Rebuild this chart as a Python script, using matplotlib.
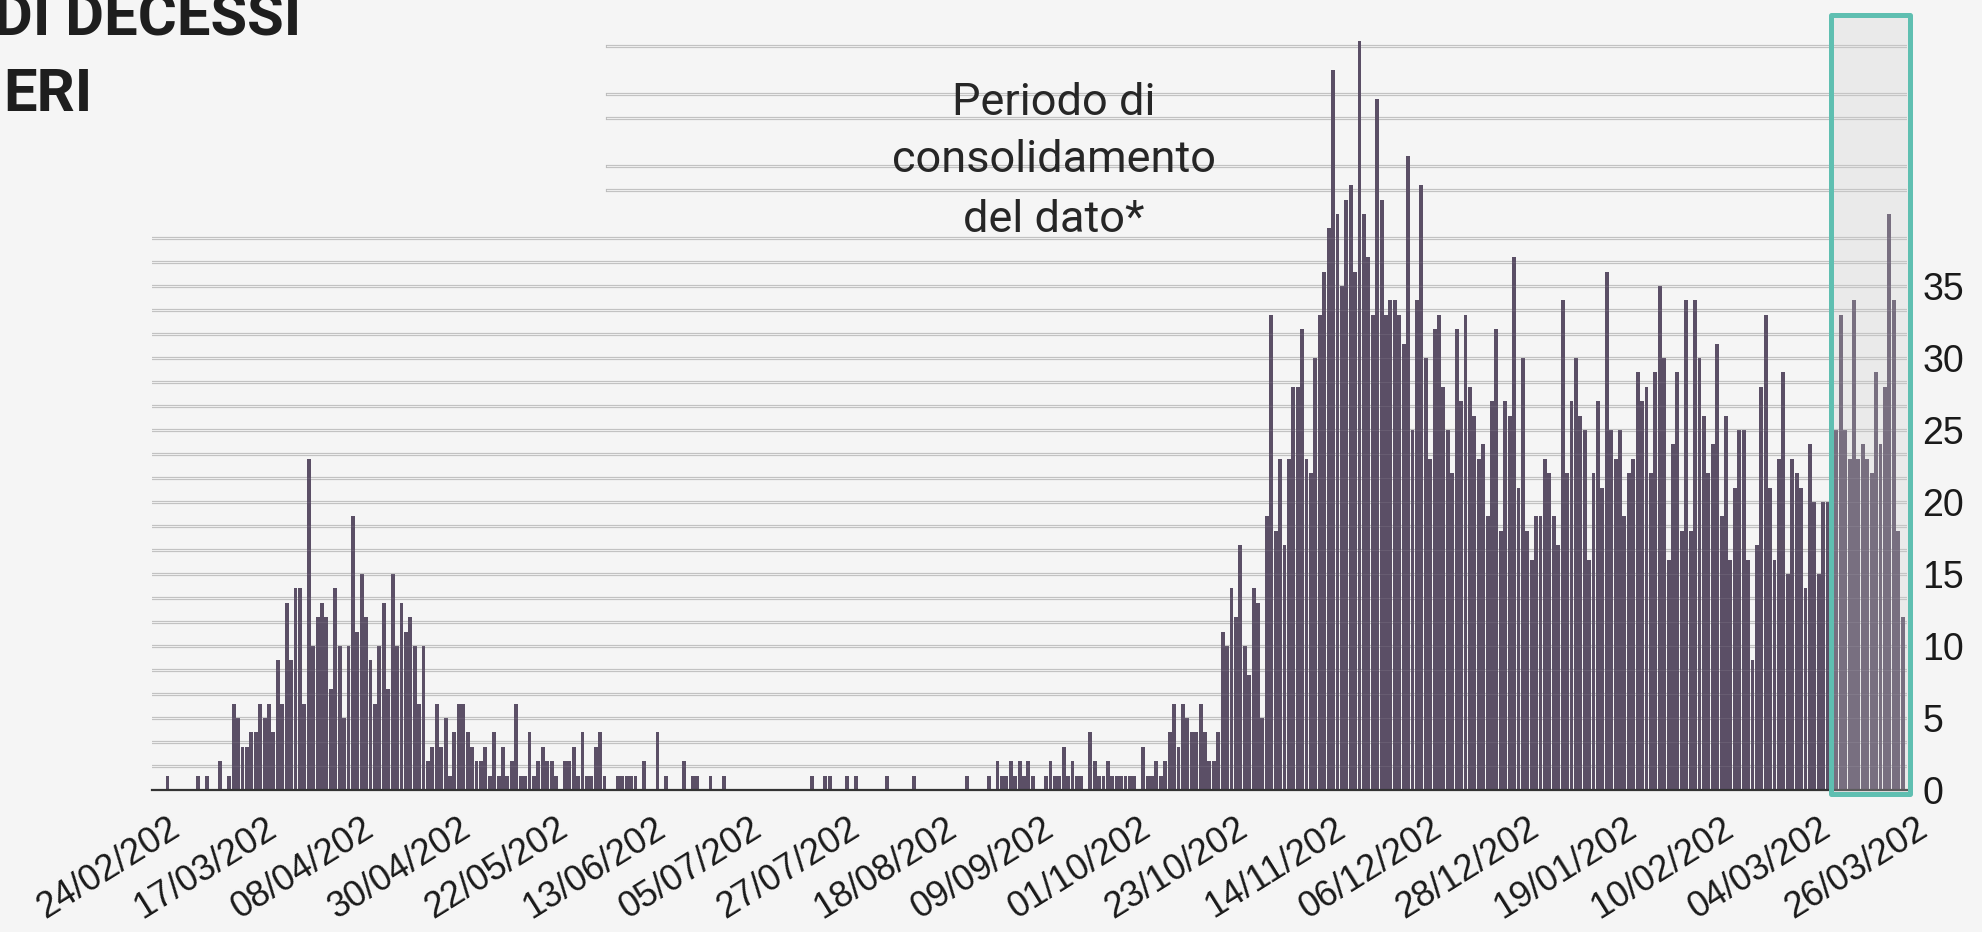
import matplotlib
matplotlib.use("Agg")
import matplotlib.pyplot as plt
import matplotlib.patches as mpatches
from matplotlib.transforms import ScaledTranslation
import numpy as np
import pandas as pd

# ---------------- data (daily deaths, one value per day from 24/02/2020) ----------------
start_date = "2020-02-24"

pre_wave = [0, 0, 0, 1, 0, 0, 0, 0, 0, 0, 1, 0, 1, 0, 0, 2, 0, 1]                 # days 0-17
wave1_rise = [6, 5, 3, 3, 4, 4, 6, 5, 6, 4, 9, 6, 13, 9, 14, 14, 6, 23]            # days 18-35
wave1_peak = [10, 12, 13, 12, 7, 14, 10, 5, 10, 19, 11, 15, 12, 9, 6, 10, 13, 7,
              15, 10, 13, 11, 12, 10, 6, 10]                                        # days 36-61
wave1_tail = [2, 3, 6, 3, 5, 1, 4, 6, 6, 4, 3, 2, 2, 3, 1, 4, 1, 3, 1, 2,
              6, 1, 1, 4, 1, 2, 3, 2, 2, 1, 0, 2, 2, 3, 1, 4, 1, 1, 3, 4,
              1, 0, 0, 1, 1, 1, 1, 1, 0, 2]                                         # days 62-111
summer = [0, 0, 4, 0, 1, 0, 0, 0, 2, 0,
          1, 1, 0, 0, 1, 0, 0, 1, 0, 0,
          0, 0, 0, 0, 0, 0, 0, 0, 0, 0,
          0, 0, 0, 0, 0, 0, 0, 1, 0, 0,
          1, 1, 0, 0, 0, 1, 0, 1, 0, 0,
          0, 0, 0, 0, 1, 0, 0, 0, 0, 0,
          1, 0, 0, 0, 0, 0, 0, 0, 0, 0,
          0, 0, 1, 0, 0, 0, 0, 1, 0, 2]                                             # days 112-191
autumn = [1, 1, 2, 1, 2, 1, 2, 1, 0, 0,
          1, 2, 1, 1, 3, 1, 2, 1, 1, 0,
          4, 2, 1, 1, 2, 1, 1, 1, 1, 1,
          1, 0, 3, 1, 1, 2, 1, 2, 4, 6,
          3, 6, 5, 4, 4, 6, 4, 2, 2, 4,
          11, 10, 14, 12, 17]                                                       # days 192-246
wave2 = [10, 8, 14, 13, 5, 19, 33, 18, 23, 17, 23, 28, 28, 32, 23, 22, 30, 33, 36, 39,
         50, 40, 35, 41, 42, 36, 52, 40, 37, 33, 48, 41, 33, 34, 34, 33, 31, 44, 25, 34,
         42, 30, 23, 32, 33, 28, 25, 22, 32, 27, 33, 28, 26, 23, 24, 19, 27, 32, 18, 27,
         26, 37, 21]                                                                # days 247-309
winter = [30, 18, 16, 19, 19, 23, 22, 19, 17, 34, 22, 27, 30, 26, 25, 16, 22, 27, 21, 36,
          25, 23, 25, 19, 22, 23, 29, 27, 28, 22, 29, 35, 30, 16, 24, 29, 18, 34, 18, 34,
          30, 26, 22, 24, 31, 19, 26, 16, 21, 25, 25, 16, 9, 17, 28, 33, 21, 16, 23, 29,
          15, 23, 22, 21, 14, 24, 20, 15, 20, 20, 20]                               # days 310-380
consolidation = [25, 33, 25, 23, 34, 23, 24, 23, 22, 29, 24, 28, 40, 34, 18, 12]  # days 381-396

deaths = np.array(pre_wave + wave1_rise + wave1_peak + wave1_tail + summer +
                  autumn + wave2 + winter + consolidation)
dates = pd.date_range(start_date, periods=len(deaths), freq="D")
day_index = np.arange(len(deaths))

tick_step = 22
tick_days = list(range(0, len(deaths), tick_step))
tick_labels = [dates[d].strftime("%d/%m/%Y")[:-1] for d in tick_days]   # truncated like original
ytick_values = [0, 5, 10, 15, 20, 25, 30, 35]
consolidation_first_day = len(deaths) - len(consolidation)

title_line1 = "DI DECESSI"
title_line2 = "ERI"
note_lines = ["Periodo di", "consolidamento", "del dato*"]

# ---------------- style ----------------
BG = "#f5f5f5"
BAR = "#5b4f66"
TEAL = "#5fbfb1"
W, H = 1983, 932
px_per_unit = 14.4

fig = plt.figure(figsize=(W / 100, H / 100), dpi=100, facecolor=BG)
ax = fig.add_axes([152 / W, 1 - 790 / H, 1755 / W, 775 / H])
ax.set_facecolor(BG)
ax.set_xlim(-0.5, len(deaths))
ax.set_ylim(0, 775 / px_per_unit)

# gridlines (double line look)
grid_step = 5 / 3
low_grid = [k * grid_step for k in range(1, 24)]
high_grid = [k * grid_step for k in (25, 26, 28, 29, 31)]
for g in low_grid:
    ax.axhline(g, color="#b8b8b8", lw=2.3, zorder=1)
    ax.axhline(g, color="#ececec", lw=1.0, zorder=1.1)
for g in high_grid:
    ax.axhline(g, xmin=0.259, color="#b8b8b8", lw=2.3, zorder=1)
    ax.axhline(g, xmin=0.259, color="#ececec", lw=1.0, zorder=1.1)

ax.bar(day_index, deaths, width=0.88, color=BAR, linewidth=0, zorder=2)

# faint gridlines showing through bars
for g in low_grid:
    ax.axhline(g, color="#ffffff", lw=0.8, alpha=0.08, zorder=2.5)

# spines
for s in ["left", "top", "right"]:
    ax.spines[s].set_visible(False)
ax.spines["bottom"].set_color("#333333")
ax.spines["bottom"].set_linewidth(1.6)
ax.spines["bottom"].set_zorder(3)

# y ticks on the right
ax.yaxis.tick_right()
ax.set_yticks(ytick_values)
ax.set_yticklabels([str(v) for v in ytick_values])
ax.tick_params(axis="y", length=0, pad=11, labelsize=27, labelcolor="#1a1a1a")
for lab in ax.get_yticklabels():
    lab.set_fontfamily(["Liberation Sans", "DejaVu Sans"])

# x ticks
ax.set_xticks(tick_days)
ax.tick_params(axis="x", length=0, pad=15, labelsize=26, labelcolor="#1a1a1a")
ax.set_xticklabels(tick_labels, rotation=32, ha="right", rotation_mode="anchor",
                   fontfamily=["Liberation Sans", "DejaVu Sans"])
offset = ScaledTranslation(0.13, 0, fig.dpi_scale_trans)
for lab in ax.get_xticklabels():
    lab.set_transform(lab.get_transform() + offset)

# consolidation box
x0 = consolidation_first_day - 1.2
x1 = len(deaths) + 0.7
y0 = -0.3
y1 = 775 / px_per_unit
ax.add_patch(mpatches.Rectangle((x0, y0), x1 - x0, y1 - y0, facecolor="#cecece",
                                alpha=0.26, edgecolor="none", zorder=4, clip_on=False))
ax.add_patch(mpatches.Rectangle((x0, y0), x1 - x0, y1 - y0, facecolor="none",
                                edgecolor=TEAL, lw=3.6, joinstyle="round", zorder=5,
                                clip_on=False))

# title (cropped at the top-left, as in the original)
fig.text(301 / W, 1 - 35 / H, title_line1, ha="right", va="baseline", fontsize=43,
         fontweight="bold", family=["Roboto", "DejaVu Sans"], color="#1e1e1e")
fig.text(3 / W, 1 - 111 / H, title_line2, ha="left", va="baseline", fontsize=43,
         fontweight="bold", family=["Roboto", "DejaVu Sans"], color="#1e1e1e")

# annotation
for line, base in zip(note_lines, [115, 172, 232]):
    fig.text(1054 / W, 1 - base / H, line, ha="center", va="baseline", fontsize=32.5,
             fontweight="normal", family=["Roboto", "DejaVu Sans"], color="#262626")

fig.savefig("out.png", dpi=100, facecolor=BG)
